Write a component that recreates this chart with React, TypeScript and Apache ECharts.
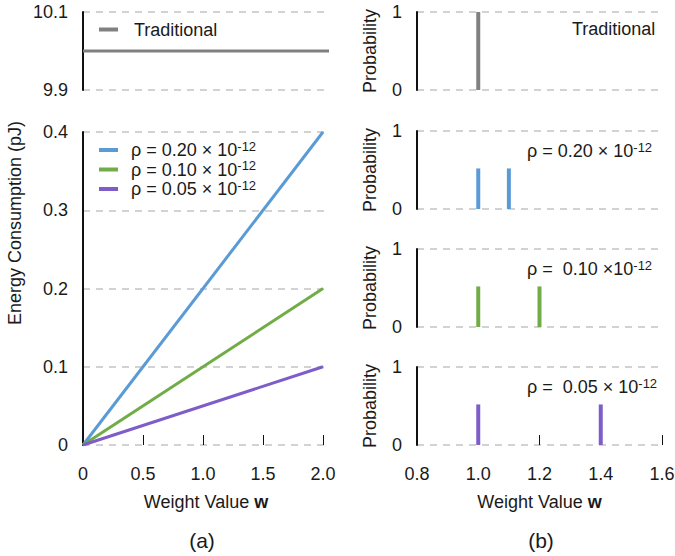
import React, { useEffect, useRef } from "react";
import * as echarts from "echarts";

// ---------- data ----------
const weightRange = [0, 2];
const traditionalWeights = [0, 2.05];
const traditionalEnergy = [10.0, 10.0];
const energyRho20 = [0, 0.4];
const energyRho10 = [0, 0.2];
const energyRho05 = [0, 0.1];

const rhoNames = ["ρ = 0.20 × 10^-12", "ρ = 0.10 × 10^-12", "ρ = 0.05 × 10^-12"];

const tradProbW = [1.0];
const tradProb = [1];
const rho20ProbW = [1.0, 1.1];
const rho20Prob = [0.52, 0.52];
const rho10ProbW = [1.0, 1.2];
const rho10Prob = [0.52, 0.52];
const rho05ProbW = [1.0, 1.4];
const rho05Prob = [0.52, 0.52];

const leftXTicks = [0, 0.5, 1.0, 1.5, 2.0];
const leftTopYTicks = [9.9, 10.1];

// ---------- styles ----------
const FONT = '"Liberation Sans", Arial, Helvetica, sans-serif';
const TXT = "#1a1a1a";
const GRAY = "#808080";
const BLUE = "#5B9BD5";
const GREEN = "#70AD47";
const PURPLE = "#7E5DC8";

const rich = {
  m: { fontFamily: FONT, fontSize: 18, lineHeight: 21, color: TXT },
  p: { fontFamily: FONT, fontSize: 18, lineHeight: 21, color: TXT, padding: [0, 0, 0, 8] },
  t: { fontFamily: FONT, fontSize: 18, lineHeight: 21, color: TXT, padding: [0, 0, 0, 11] },
  s: { fontFamily: FONT, fontSize: 13, lineHeight: 4, verticalAlign: "top", color: TXT },
};

function richRho(name: string, tok = "m") {
  const [main, sup] = name.split("^");
  return `{${tok}|${main}}{s|${sup}}`;
}

const zip = (xs: number[], ys: number[]) => xs.map((x, i) => [x, ys[i]]);

export default function App() {
  const ref = useRef<HTMLDivElement>(null);

  useEffect(() => {
    if (!ref.current) return;
    const chart = echarts.init(ref.current, null, { renderer: "svg" });

    const yBase = (extra: any) => ({
      type: "value",
      axisLine: { show: true, lineStyle: { color: "#111", width: 2 } },
      axisTick: { show: false },
      axisLabel: { color: TXT, fontSize: 18, fontFamily: FONT, margin: 15 },
      splitLine: { show: true, lineStyle: { color: "#c4c4c4", width: 1.5, type: [7, 6] } },
      nameTextStyle: { color: TXT, fontSize: 18, fontFamily: FONT },
      ...extra,
    });

    const rightTops = [12, 131, 249, 367];
    const grids: any[] = [
      { left: 83, top: 12, width: 246, height: 78 },
      { left: 83, top: 132, width: 246, height: 313 },
      ...rightTops.map((t) => ({ left: 417, top: t, width: 245, height: 78 })),
    ].map((g) => ({ ...g, containLabel: false, outerBoundsMode: "none" }));

    const nameW = {
      name: "{n|Weight Value }{b|w}",
      nameLocation: "middle",
      nameGap: 48,
      nameTextStyle: {
        rich: {
          n: { fontSize: 18, fontFamily: FONT, color: TXT },
          b: { fontSize: 18, fontFamily: FONT, color: TXT, fontWeight: "bold" },
        },
      },
    };

    const xAxes: any[] = [
      { gridIndex: 0, type: "value", min: 0, max: 2.05, show: false },
      {
        gridIndex: 1,
        type: "value",
        min: 0,
        max: 2.05,
        interval: 0.5,
        axisLine: { show: false },
        axisTick: {
          show: true,
          inside: true,
          length: 10,
          customValues: [0.5, 1.0, 1.5, 2.0],
          lineStyle: { color: "#111", width: 1 },
        },
        axisLabel: {
          customValues: leftXTicks,
          color: TXT,
          fontSize: 18,
          fontFamily: FONT,
          margin: 20,
          formatter: (v: number) => (v === 0 ? "0" : v.toFixed(1)),
        },
        splitLine: { show: false },
        ...nameW,
      },
      { gridIndex: 2, type: "value", min: 0.8, max: 1.6, show: false },
      { gridIndex: 3, type: "value", min: 0.8, max: 1.6, show: false },
      { gridIndex: 4, type: "value", min: 0.8, max: 1.6, show: false },
      {
        gridIndex: 5,
        type: "value",
        min: 0.8,
        max: 1.6,
        interval: 0.2,
        axisLine: { show: false },
        axisTick: { show: true, inside: true, length: 10, lineStyle: { color: "#111", width: 1 } },
        axisLabel: {
          color: TXT,
          fontSize: 18,
          fontFamily: FONT,
          margin: 20,
          formatter: (v: number) => v.toFixed(1),
        },
        splitLine: { show: false },
        ...nameW,
      },
    ];

    const probY = (gi: number) =>
      yBase({
        gridIndex: gi,
        min: 0,
        max: 1,
        interval: 1,
        name: "Probability",
        nameLocation: "middle",
        nameGap: 38,
      });

    const yAxes: any[] = [
      yBase({
        gridIndex: 0,
        min: 9.9,
        max: 10.1,
        interval: 0.1,
        axisLabel: {
          color: TXT,
          fontSize: 18,
          fontFamily: FONT,
          margin: 15,
          customValues: leftTopYTicks,
          formatter: (v: number) => v.toFixed(1),
        },
      }),
      yBase({
        gridIndex: 1,
        min: 0,
        max: 0.4,
        interval: 0.1,
        axisLabel: {
          color: TXT,
          fontSize: 18,
          fontFamily: FONT,
          margin: 15,
          formatter: (v: number) => (v === 0 ? "0" : v.toFixed(1)),
        },
      }),
      probY(2),
      probY(3),
      probY(4),
      probY(5),
    ];

    const lineS = (name: string, color: string, xi: number, data: number[][]) => ({
      type: "line",
      name,
      xAxisIndex: xi,
      yAxisIndex: xi,
      data,
      showSymbol: false,
      symbol: "none",
      lineStyle: { color, width: 3 },
      itemStyle: { color },
      z: 3,
    });

    const barS = (name: string, color: string, gi: number, data: number[][]) => ({
      type: "bar",
      name,
      xAxisIndex: gi,
      yAxisIndex: gi,
      data,
      barWidth: 4,
      itemStyle: { color },
      z: 3,
    });

    const series: any[] = [
      lineS("Traditional", GRAY, 0, zip(traditionalWeights, traditionalEnergy)),
      lineS(rhoNames[0], BLUE, 1, zip(weightRange, energyRho20)),
      lineS(rhoNames[1], GREEN, 1, zip(weightRange, energyRho10)),
      lineS(rhoNames[2], PURPLE, 1, zip(weightRange, energyRho05)),
      barS("Traditional prob", GRAY, 2, zip(tradProbW, tradProb)),
      barS("rho20 prob", BLUE, 3, zip(rho20ProbW, rho20Prob)),
      barS("rho10 prob", GREEN, 4, zip(rho10ProbW, rho10Prob)),
      barS("rho05 prob", PURPLE, 5, zip(rho05ProbW, rho05Prob)),
    ];

    const txt = (text: string, x: number, y: number, extra: any = {}) => ({
      type: "text",
      x,
      y,
      ...extra,
      style: {
        text,
        fontFamily: FONT,
        fontSize: 18,
        fill: TXT,
        rich,
        align: "left",
        textAlign: "left",
        verticalAlign: "middle",
        textVerticalAlign: "middle",
        ...(extra.style || {}),
      },
    });

    const graphic: any[] = [
      txt("{m|Traditional}", 572, 29),
      txt("{m|ρ = 0.20 × 10}{s|-12}", 527, 151),
      txt("{m|ρ =  0.10 ×10}{s|-12}", 527, 269),
      txt("{m|ρ =  0.05 × 10}{s|-12}", 527, 387),
      txt("(a)", 202, 540, { style: { align: "center", textAlign: "center", fontSize: 21 } }),
      txt("(b)", 541, 540, { style: { align: "center", textAlign: "center", fontSize: 21 } }),
      txt("Energy Consumption (pJ)", 15, 223, {
        rotation: Math.PI / 2,
        style: { align: "center", textAlign: "center" },
      }),
    ];

    chart.setOption({
      animation: false,
      backgroundColor: "#ffffff",
      textStyle: { fontFamily: FONT },
      grid: grids,
      xAxis: xAxes,
      yAxis: yAxes,
      legend: [
        {
          data: ["Traditional"],
          left: 99,
          top: 20.5,
          padding: 0,
          orient: "vertical",
          icon: "rect",
          itemWidth: 19,
          itemHeight: 4,
          selectedMode: false,
          formatter: (n: string) => `{t|${n}}`,
          textStyle: { fontFamily: FONT, fontSize: 18, color: TXT, rich },
        },
        {
          data: rhoNames,
          left: 99,
          top: 139.5,
          padding: 0,
          orient: "vertical",
          icon: "rect",
          itemWidth: 19,
          itemHeight: 4,
          itemGap: 0,
          selectedMode: false,
          formatter: (n: string) => richRho(n, "p"),
          textStyle: { fontFamily: FONT, fontSize: 18, color: TXT, rich },
        },
      ],
      series,
      graphic,
    });

    return () => chart.dispose();
  }, []);

  return (
    <div
      ref={ref}
      style={{ position: "absolute", left: 0, top: 0, width: 675, height: 556, background: "#fff" }}
    />
  );
}
